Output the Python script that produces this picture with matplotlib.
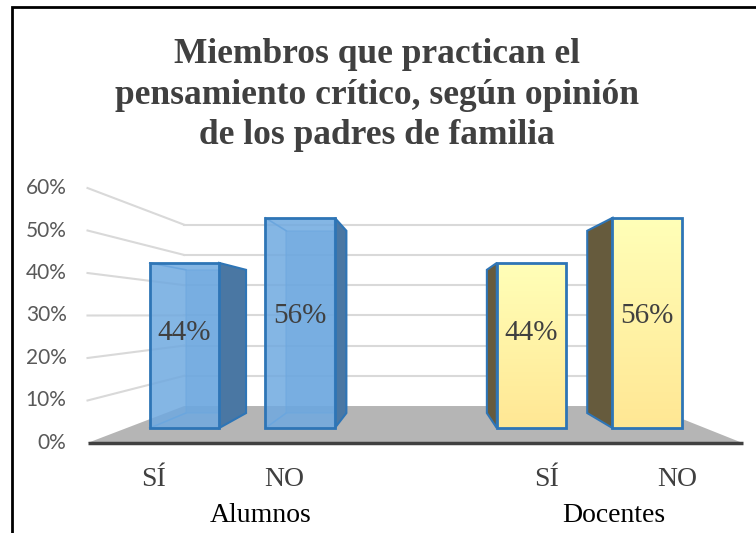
import numpy as np
import matplotlib.pyplot as plt
from matplotlib.patches import Polygon, Rectangle

# data
groups = ["Alumnos", "Docentes"]
categories = ["SÍ", "NO", "SÍ", "NO"]
values = [44, 56, 44, 56]
positions = [0, 1, 3, 4]
yticks = [0, 10, 20, 30, 40, 50, 60]
title = "Miembros que practican el\npensamiento crítico, según opinión\nde los padres de familia"

# fake 3D: scale factor of each depth plane, toward a vanishing point
VX, VY = 2.053, 30.1
S_WALL = 0.711
S_BAR_FRONT, S_BAR_BACK = 0.883, 0.766
BAR_W = 0.3


def proj(x, y, s):
    return (VX + (x - VX) * s, VY + (y - VY) * s)


fig = plt.figure(figsize=(7.56, 5.33), dpi=100)
ax = fig.add_axes([0, 0, 1, 1])
ax.set_xlim(-1.168, 4.603)
ax.set_ylim(-21.18, 104.24)
ax.axis("off")

grid_col = "#d9d9d9"
x0, x1 = -0.5, 4.5

# back wall and side wall gridlines
for t in yticks[1:]:
    a = proj(x0, t, S_WALL)
    b = proj(x1, t, S_WALL)
    c = proj(x0, t, 1.0)
    ax.plot([a[0], b[0]], [a[1], b[1]], color=grid_col, lw=1.5, zorder=1)
    ax.plot([c[0], a[0]], [c[1], a[1]], color=grid_col, lw=1.5, zorder=1)

# floor
floor = [proj(x0, 0, 1), proj(x1, 0, 1), proj(x1, 0, S_WALL), proj(x0, 0, S_WALL)]
ax.add_patch(Polygon(floor, closed=True, facecolor="#b5b5b5", edgecolor="none", zorder=2))
ax.plot([x0, x1], [0, 0], color="#404040", lw=2.5, zorder=3, solid_capstyle="butt")

# y tick labels
for t in yticks:
    ax.text(-0.66, t, f"{t}%", ha="right", va="center", fontsize=15,
            family="Lato", color="#595959")

edge_blue = "#2e75b6"
for i, (xc, v) in enumerate(zip(positions, values)):
    l, r = xc - BAR_W, xc + BAR_W
    fl, fr = proj(l, 0, S_BAR_FRONT), proj(r, 0, S_BAR_FRONT)
    ftl, ftr = proj(l, v, S_BAR_FRONT), proj(r, v, S_BAR_FRONT)
    bl, br = proj(l, 0, S_BAR_BACK), proj(r, 0, S_BAR_BACK)
    btl, btr = proj(l, v, S_BAR_BACK), proj(r, v, S_BAR_BACK)
    front = [fl, fr, ftr, ftl]
    if i < 2:
        # translucent blue box, hidden edges show through
        ax.add_patch(Polygon([bl, br, btr, btl], closed=True, facecolor="#5b9bd5",
                             alpha=0.5, edgecolor="#5b9bd5", lw=1.2, zorder=4))
        ax.plot([ftl[0], btl[0]], [ftl[1], btl[1]], color="#5b9bd5", lw=1.2, zorder=4)
        ax.plot([fl[0], bl[0]], [fl[1], bl[1]], color="#5b9bd5", lw=1.2, zorder=4)
        ax.add_patch(Polygon([fr, br, btr, ftr], closed=True, facecolor="#4a77a3",
                             edgecolor=edge_blue, lw=1.5, zorder=5))
        ax.add_patch(Polygon(front, closed=True, facecolor="#6fa9e0", alpha=0.85,
                             edgecolor="none", zorder=6))
        ax.add_patch(Polygon(front, closed=True, facecolor="none",
                             edgecolor=edge_blue, lw=2, zorder=7))
    else:
        ax.add_patch(Polygon([fl, bl, btl, ftl], closed=True, facecolor="#665b3d",
                             edgecolor=edge_blue, lw=1.5, zorder=5))
        grad = np.linspace(0, 1, 100).reshape(-1, 1)
        im = ax.imshow(grad, cmap=plt.matplotlib.colors.LinearSegmentedColormap.from_list(
            "y", ["#ffe794", "#ffffb8"]), origin="lower", aspect="auto",
            extent=[fl[0], fr[0], fl[1], ftl[1]], zorder=6)
        p = Polygon(front, closed=True, facecolor="none", edgecolor=edge_blue, lw=2, zorder=7)
        ax.add_patch(p)
        im.set_clip_path(p)
    # data label
    ly = v * 0.38 + 8.6
    lx, lyp = proj(xc, ly, S_BAR_FRONT)
    ax.text(lx, lyp, f"{v}%", ha="center", va="center", fontsize=21,
            family="Liberation Serif", color="#404040", zorder=8)

# category labels
for xc, c in zip(positions, categories):
    ax.text(xc, -8.7, c, ha="center", va="center", fontsize=20,
            family="Liberation Serif", color="#404040")
for gx, g in zip([0.82, 3.52], groups):
    ax.text(gx, -17.0, g, ha="center", va="center", fontsize=20,
            family="Liberation Serif", color="black")

# title
fig.text(377 / 756, 1 - 95 / 533, title, ha="center", va="center", fontsize=25.5,
         fontweight="bold", family="Liberation Serif", color="#404040", linespacing=1.3)

# frame around the chart (cut off on the right and bottom)
fig.add_artist(Rectangle((12 / 756, -0.1), 1.0, 1 - 7 / 533 + 0.1, transform=fig.transFigure,
                         facecolor="none", edgecolor="black", lw=2))

fig.savefig("out.png", dpi=100)
